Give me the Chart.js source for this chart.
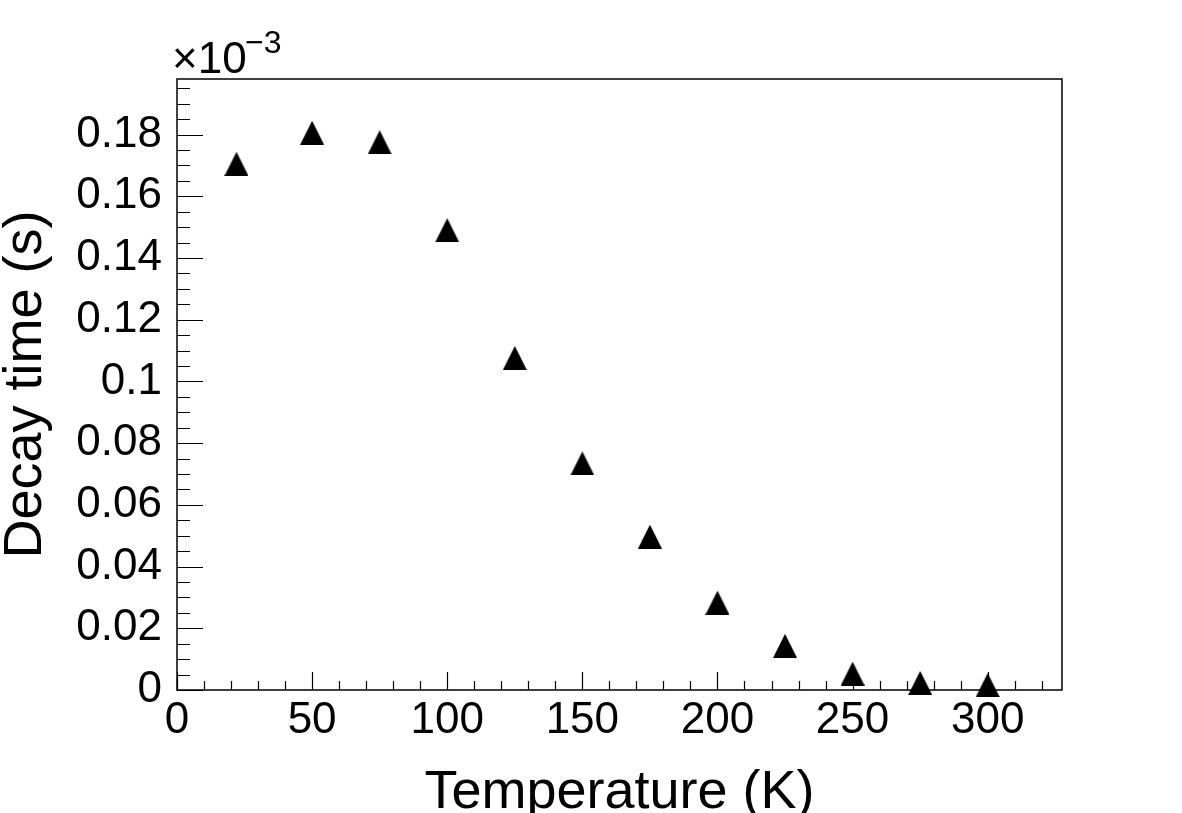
<!DOCTYPE html>
<html>
<head>
<meta charset="utf-8">
<title>Decay time vs temperature</title>
<script src="https://cdn.jsdelivr.net/npm/chart.js@4.4.1/dist/chart.umd.min.js"></script>
<style>
  body { margin: 0; background: #fff; }
  canvas { display: block; }
</style>
</head>
<body>
<canvas id="chart" width="1182" height="813"></canvas>
<script>
// measured points (decay time in units of 1e-3 s, see the x10^-3 label)
const temperature = [22, 50, 75, 100, 125, 150, 175, 200, 225, 250, 275, 300];
const decayTime = [0.1705, 0.1806, 0.1775, 0.149, 0.1076, 0.0734, 0.0497, 0.0283, 0.0143, 0.0053, 0.0023, 0.0016];

// axis ranges and tick labels
const xRange = [0, 327.5];
const yRange = [0, 0.198];
const xTicks = [0, 50, 100, 150, 200, 250, 300];
const yTicks = [0, 0.02, 0.04, 0.06, 0.08, 0.1, 0.12, 0.14, 0.16, 0.18];
const xMinorStep = 10;
const yMinorStep = 0.005;

const FONT = '"Liberation Sans", Arial, Helvetica, sans-serif';

// filled triangle marker, like ROOT marker style 22
function makeTriangle(size) {
  const c = document.createElement('canvas');
  c.width = size;
  c.height = size;
  const g = c.getContext('2d');
  g.fillStyle = '#000';
  g.beginPath();
  g.moveTo(size / 2, 0);
  g.lineTo(size, size);
  g.lineTo(0, size);
  g.closePath();
  g.fill();
  return c;
}

// frame, inward tick marks and the exponent label, ROOT style
const rootFrame = {
  id: 'rootFrame',
  beforeDatasetsDraw(chart) {
    const { ctx, chartArea: a, scales: { x, y } } = chart;
    ctx.save();
    ctx.strokeStyle = '#000';
    ctx.lineWidth = 1.5;
    ctx.strokeRect(a.left, a.top, a.right - a.left, a.bottom - a.top);

    ctx.lineWidth = 1.2;
    ctx.beginPath();
    for (let v = xRange[0]; v <= xRange[1]; v += xMinorStep) {
      const px = Math.round(x.getPixelForValue(v)) + 0.5;
      const major = Math.abs(v % 50) < 1e-6;
      ctx.moveTo(px, a.bottom);
      ctx.lineTo(px, a.bottom - (major ? 18 : 9));
    }
    for (let i = 0; i * yMinorStep <= yRange[1] + 1e-9; i++) {
      const v = i * yMinorStep;
      const py = Math.round(y.getPixelForValue(v)) + 0.5;
      const major = i % 4 === 0;
      ctx.moveTo(a.left, py);
      ctx.lineTo(a.left + (major ? 26 : 13), py);
    }
    ctx.stroke();

    // x10^-3 multiplier above the y axis
    ctx.fillStyle = '#000';
    ctx.textBaseline = 'alphabetic';
    ctx.textAlign = 'left';
    ctx.font = '44px ' + FONT;
    ctx.fillText('\u00d710', 172, 73);
    ctx.font = '32px ' + FONT;
    ctx.fillText('\u22123', 245, 53);
    ctx.restore();
  }
};

new Chart(document.getElementById('chart'), {
  type: 'scatter',
  data: {
    datasets: [{
      label: 'Decay time',
      data: temperature.map((t, i) => ({ x: t, y: decayTime[i] })),
      pointStyle: makeTriangle(24),
      showLine: false,
      clip: false
    }]
  },
  options: {
    responsive: false,
    animation: false,
    events: [],
    layout: { padding: { top: 79, right: 120, left: 0, bottom: 0 } },
    plugins: {
      legend: { display: false },
      tooltip: { enabled: false }
    },
    scales: {
      x: {
        type: 'linear',
        min: xRange[0],
        max: xRange[1],
        afterBuildTicks: s => { s.ticks = xTicks.map(v => ({ value: v })); },
        afterFit: s => { s.height = 123; },
        grid: { display: false, drawTicks: false },
        border: { display: false },
        ticks: {
          color: '#000',
          font: { family: FONT, size: 44 },
          padding: 4,
          maxRotation: 0,
          callback: v => String(v)
        },
        title: {
          display: true,
          text: 'Temperature (K)',
          color: '#000',
          font: { family: FONT, size: 54 },
          padding: { top: 0, bottom: -13 }
        }
      },
      y: {
        type: 'linear',
        min: yRange[0],
        max: yRange[1],
        afterBuildTicks: s => { s.ticks = yTicks.map(v => ({ value: v })); },
        afterFit: s => { s.width = 177; },
        grid: { display: false, drawTicks: false },
        border: { display: false },
        ticks: {
          color: '#000',
          font: { family: FONT, size: 44 },
          padding: 15,
          callback: v => String(+v.toFixed(3))
        },
        title: {
          display: true,
          text: 'Decay time (s)',
          color: '#000',
          font: { family: FONT, size: 54 },
          padding: { top: -6, bottom: 0 }
        }
      }
    }
  },
  plugins: [rootFrame]
});
</script>
</body>
</html>
